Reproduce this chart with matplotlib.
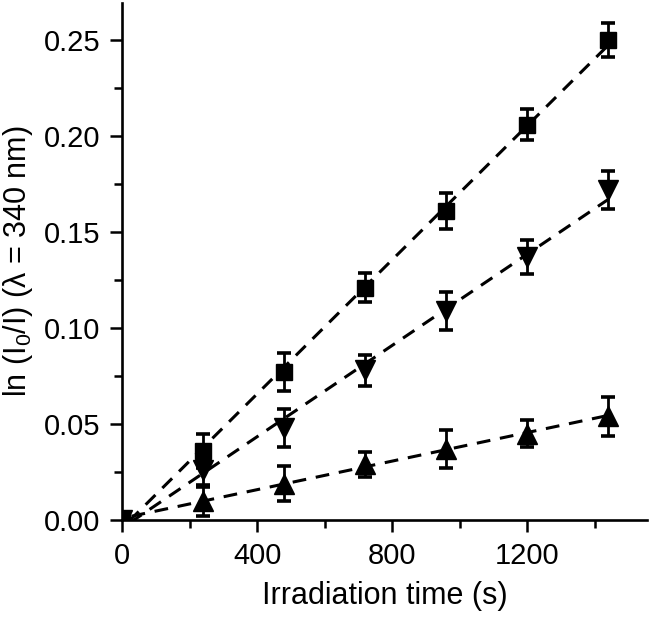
import matplotlib
matplotlib.use("Agg")
import matplotlib.pyplot as plt
import numpy as np
from matplotlib.ticker import MultipleLocator

plt.rcParams["font.family"] = ["Liberation Sans", "DejaVu Sans"]
plt.rcParams["mathtext.fontset"] = "custom"
plt.rcParams["mathtext.rm"] = "Liberation Sans"
plt.rcParams["mathtext.it"] = "Liberation Sans"

# irradiation times (s)
time_s = np.array([0, 240, 480, 720, 960, 1200, 1440])

# squares
sq_y = np.array([0, 0.036, 0.077, 0.121, 0.161, 0.206, 0.250])
sq_err = np.array([0, 0.009, 0.010, 0.0075, 0.0095, 0.008, 0.009])

# down triangles
dn_y = np.array([0, 0.026, 0.048, 0.078, 0.109, 0.137, 0.172])
dn_err = np.array([0, 0.009, 0.010, 0.008, 0.010, 0.009, 0.010])

# up triangles
up_y = np.array([0, 0.010, 0.019, 0.029, 0.037, 0.045, 0.054])
up_err = np.array([0, 0.008, 0.009, 0.0065, 0.010, 0.007, 0.010])

keycolor = "black"

fig = plt.figure(figsize=(6.49, 6.21), dpi=100)
ax = fig.add_axes([0.188, 0.1626, 0.809, 0.8324])

series = [(sq_y, sq_err, "s", 11.5), (dn_y, dn_err, "v", 14), (up_y, up_err, "^", 14)]

for y, err, mk, ms in series:
    # linear fit drawn as dashed line
    k, b = np.polyfit(time_s, y, 1)
    xf = np.array([0, time_s[-1]])
    ax.plot(xf, k * xf + b, color=keycolor, lw=2.2,
            linestyle=(4.5, (4.5, 3.2)), zorder=1)
    ax.errorbar(time_s, y, yerr=err, fmt=mk, ms=ms, color=keycolor,
                ecolor=keycolor, elinewidth=2, capsize=5.2, capthick=2.6,
                zorder=3)

ax.set_xlim(0, 1555)
ax.set_ylim(0, 0.2693)

ax.xaxis.set_major_locator(MultipleLocator(400))
ax.xaxis.set_minor_locator(MultipleLocator(200))
ax.yaxis.set_major_locator(MultipleLocator(0.05))
ax.yaxis.set_minor_locator(MultipleLocator(0.025))
ax.yaxis.set_major_formatter(matplotlib.ticker.FormatStrFormatter("%.2f"))

for side in ["top", "right"]:
    ax.spines[side].set_visible(False)
for side in ["left", "bottom"]:
    ax.spines[side].set_linewidth(1.9)

ax.tick_params(which="major", direction="out", length=8.6, width=1.8,
               pad=7, labelsize=21, colors=keycolor)
ax.tick_params(which="minor", direction="out", length=5.8, width=1.8)

ax.set_xlabel("Irradiation time (s)", fontsize=22, labelpad=8)
ax.set_ylabel(r"ln (I$_0$/I) ($\lambda$ = 340 nm)", fontsize=22, labelpad=6)

fig.savefig("out.png", dpi=100)
